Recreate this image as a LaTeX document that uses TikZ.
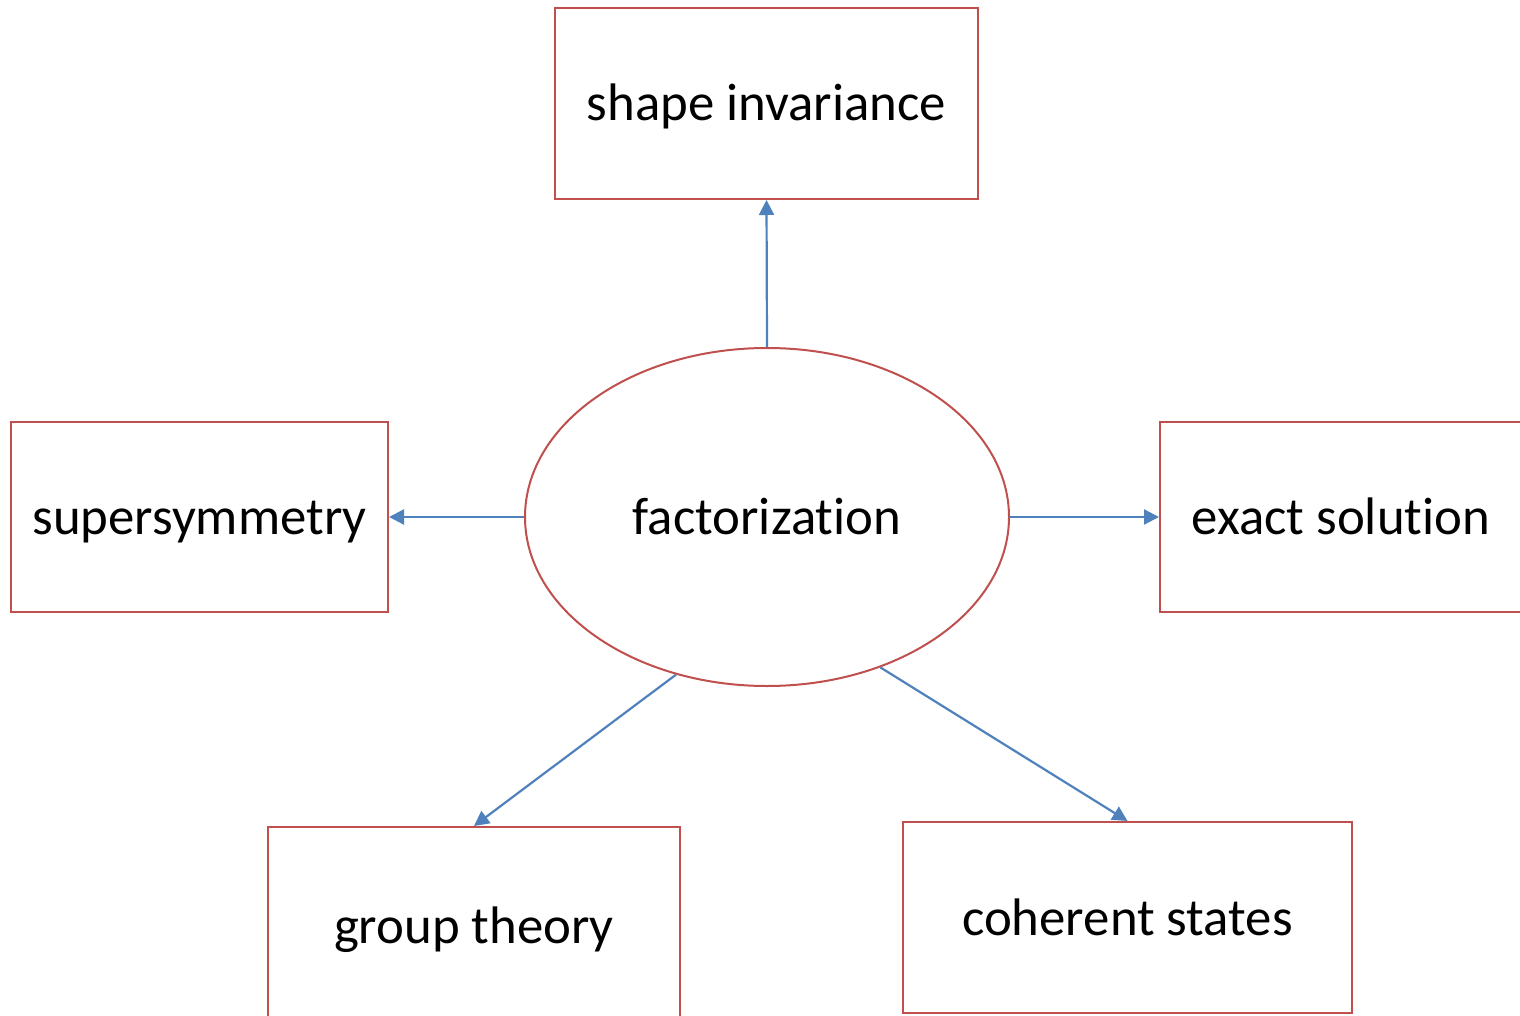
\documentclass[tikz,border=0pt]{standalone}
\usepackage{fontspec}
\setmainfont[RawFeature={-liga;-clig;-calt;-dlig}]{Carlito}
\usetikzlibrary{shapes.geometric,arrows.meta}
\definecolor{boxred}{HTML}{C0504D}
\definecolor{arrblue}{HTML}{4F81BD}
\begin{document}
\begin{tikzpicture}[x=0.5pt,y=-0.5pt,
  every node/.style={font=\fontsize{26.4}{32}\selectfont, text=black, text height=22pt, text depth=4.5pt},
  topic/.style={draw=boxred, line width=1pt, rectangle, inner sep=0pt},
  hub/.style={draw=boxred, line width=1pt, ellipse, inner sep=0pt, minimum width=242pt, minimum height=169pt},
  link/.style={draw=arrblue, line width=1.1pt, -{Triangle[length=7.5pt,width=7.5pt]}}]
\clip (0,0) rectangle (1520,1016);
\fill[white] (0,0) rectangle (1520,1016);
\node[hub] (ell) at (767,517) {factorizat\kern0pt ion};
\node[topic, minimum width=211.5pt, minimum height=95.5pt] (si) at (766.5,103.5) {shape invariance};
\node[topic, minimum width=188.5pt, minimum height=95pt] (ss) at (199.5,517) {supersymmetry};
\node[topic, minimum width=181pt, minimum height=95pt] (es) at (1341,517) {exact solut\kern0pt ion};
\node[topic, minimum width=206pt, minimum height=99pt] (gt) at (474,926) {group theory};
\node[topic, minimum width=224.5pt, minimum height=95.5pt] (cs) at (1127.5,917.5) {coherent states};
\draw[link] (ell.north) -- (si.south);
\draw[link] (ell.west) -- (ss.east);
\draw[link] (ell.east) -- (es.west);
\draw[link] (ell.240) -- (gt.north);
\draw[link] (ell.307) -- (cs.north);
\end{tikzpicture}
\end{document}
